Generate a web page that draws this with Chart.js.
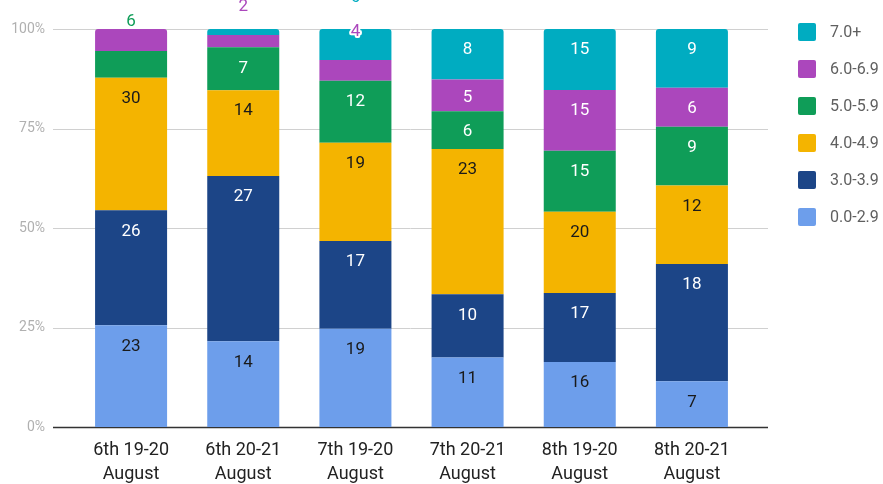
<!DOCTYPE html>
<html>
<head>
<meta charset="utf-8">
<script src="https://cdn.jsdelivr.net/npm/chart.js@4/dist/chart.umd.min.js"></script>
<style>
  html, body { margin: 0; padding: 0; background: #fff; }
  #wrap { width: 883px; height: 484px; }
</style>
</head>
<body>
<div id="wrap"><canvas id="c" width="883" height="484"></canvas></div>
<script>
// Nights of observation
const categories = [
  ['6th 19-20', 'August'],
  ['6th 20-21', 'August'],
  ['7th 19-20', 'August'],
  ['7th 20-21', 'August'],
  ['8th 19-20', 'August'],
  ['8th 20-21', 'August']
];

// Counts per magnitude band
const band00_29 = [23, 14, 19, 11, 16, 7];
const band30_39 = [26, 27, 17, 10, 17, 18];
const band40_49 = [30, 14, 19, 23, 20, 12];
const band50_59 = [6, 7, 12, 6, 15, 9];
const band60_69 = [5, 2, 4, 5, 15, 6];
const band70up  = [0, 1, 6, 8, 15, 9];

const seriesNames = ['0.0-2.9', '3.0-3.9', '4.0-4.9', '5.0-5.9', '6.0-6.9', '7.0+'];
const seriesCounts = [band00_29, band30_39, band40_49, band50_59, band60_69, band70up];
const seriesColors = ['#6d9eeb', '#1c4587', '#f4b400', '#0f9d58', '#ab47bc', '#00acc1'];
const darkText = [true, false, true, false, false, false];

const yTicks = [0, 25, 50, 75, 100];

// Small segments whose value label is moved above the stack (offset from the plot top)
const liftedLabels = [
  { col: 0, series: 3, dy: -7 },
  { col: 1, series: 4, dy: -22 },
  { col: 2, series: 5, dy: -31 },
  { col: 2, series: 4, dy: 3 }
];
// Segments too thin to carry a label
const hiddenLabels = [
  { col: 0, series: 4 },
  { col: 1, series: 5 }
];

const totals = categories.map((_, i) => seriesCounts.reduce((s, arr) => s + arr[i], 0));

const FONT = 'Roboto, "Noto Sans", sans-serif';

function topSeriesIndex(col) {
  for (let s = seriesCounts.length - 1; s >= 0; s--) {
    if (seriesCounts[s][col] > 0) return s;
  }
  return 0;
}

const datasets = seriesNames.map((name, s) => ({
  label: name,
  data: seriesCounts[s].map((v, i) => v / totals[i] * 100),
  backgroundColor: seriesColors[s],
  borderWidth: 0,
  barPercentage: 0.642,
  categoryPercentage: 1,
  borderSkipped: false,
  borderRadius: (ctx) => {
    const col = ctx.dataIndex;
    return topSeriesIndex(col) === s
      ? { topLeft: 3, topRight: 3, bottomLeft: 0, bottomRight: 0 }
      : 0;
  }
}));

// Horizontal grid and baseline, a little wider than the plot area
const gridPlugin = {
  id: 'gridLines',
  beforeDatasetsDraw(chart) {
    const { ctx, chartArea, scales } = chart;
    const x0 = chartArea.left - 22;
    const x1 = chartArea.right + 20;
    ctx.save();
    yTicks.forEach(v => {
      const y = Math.round(scales.y.getPixelForValue(v)) + 0.5;
      ctx.beginPath();
      ctx.moveTo(x0, y);
      ctx.lineTo(x1, y);
      ctx.strokeStyle = v === 0 ? '#333333' : '#d0d0d0';
      ctx.lineWidth = v === 0 ? 1.5 : 1;
      ctx.stroke();
    });
    ctx.restore();
  }
};

// Count labels on each segment
const valueLabelPlugin = {
  id: 'valueLabels',
  afterDatasetsDraw(chart) {
    const { ctx, chartArea } = chart;
    ctx.save();
    ctx.font = '17px ' + FONT;
    ctx.textAlign = 'center';
    ctx.textBaseline = 'middle';
    seriesCounts.forEach((counts, s) => {
      const meta = chart.getDatasetMeta(s);
      meta.data.forEach((bar, col) => {
        const val = counts[col];
        if (!val) return;
        if (hiddenLabels.some(h => h.col === col && h.series === s)) return;
        const lifted = liftedLabels.find(l => l.col === col && l.series === s);
        const text = String(val);
        if (lifted) {
          const y = chartArea.top + lifted.dy;
          ctx.lineJoin = 'round';
          ctx.strokeStyle = '#ffffff';
          ctx.lineWidth = 4;
          ctx.strokeText(text, bar.x, y);
          ctx.fillStyle = seriesColors[s];
          ctx.fillText(text, bar.x, y);
        } else {
          const h = bar.base - bar.y;
          const y = bar.y + Math.min(21, h / 2 + 2);
          ctx.fillStyle = darkText[s] ? '#1a1a1a' : '#ffffff';
          ctx.fillText(text, bar.x, y);
        }
      });
    });
    ctx.restore();
  }
};

// Legend on the right, highest band first
const legendPlugin = {
  id: 'sideLegend',
  afterDraw(chart) {
    const { ctx } = chart;
    ctx.save();
    ctx.font = '16px ' + FONT;
    ctx.textBaseline = 'middle';
    ctx.textAlign = 'left';
    const order = seriesNames.map((_, i) => i).reverse();
    order.forEach((s, row) => {
      const cy = 32 + row * 37;
      ctx.fillStyle = seriesColors[s];
      ctx.beginPath();
      ctx.roundRect(798, cy - 9, 18, 18, 2);
      ctx.fill();
      ctx.fillStyle = '#5f5f5f';
      ctx.fillText(seriesNames[s], 830, cy + 1);
    });
    ctx.restore();
  }
};

new Chart(document.getElementById('c'), {
  type: 'bar',
  data: { labels: categories, datasets },
  plugins: [gridPlugin, valueLabelPlugin, legendPlugin],
  options: {
    responsive: false,
    animation: false,
    layout: { padding: { top: 29, right: 135, bottom: 0, left: 0 } },
    plugins: {
      legend: { display: false },
      tooltip: { enabled: false }
    },
    scales: {
      x: {
        stacked: true,
        grid: { display: false, drawTicks: false },
        border: { display: false },
        ticks: {
          color: '#222222',
          font: { family: FONT, size: 18, lineHeight: 1.3 },
          padding: 12,
          maxRotation: 0,
          autoSkip: false
        },
        afterFit(scale) { scale.height = 57; }
      },
      y: {
        stacked: true,
        min: 0,
        max: 100,
        grid: { display: false, drawTicks: false },
        border: { display: false },
        afterBuildTicks(scale) { scale.ticks = yTicks.map(v => ({ value: v })); },
        ticks: {
          color: '#b0b0b0',
          font: { family: FONT, size: 14 },
          padding: 30,
          callback: (v) => v + '%'
        },
        afterFit(scale) {
          scale.width = 75;
          scale.paddingTop = 0;
          scale.paddingBottom = 0;
        }
      }
    }
  }
});
</script>
</body>
</html>
